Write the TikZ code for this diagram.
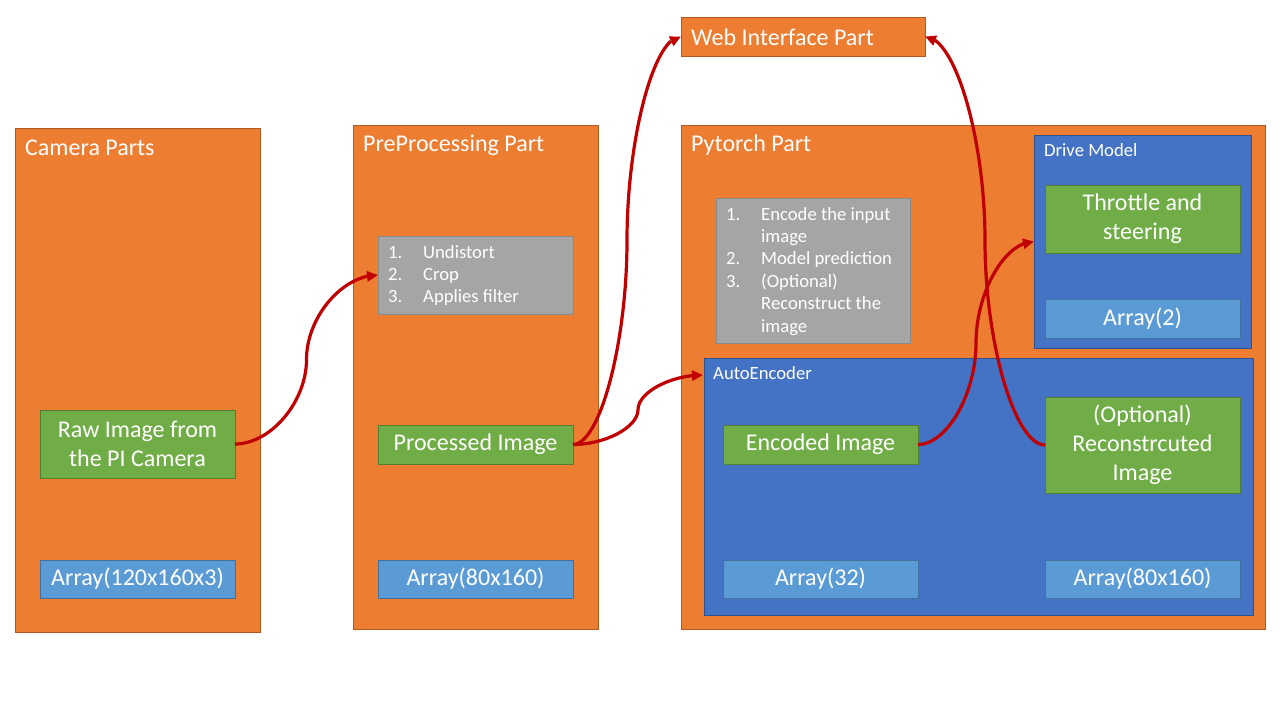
\documentclass[tikz,border=0pt]{standalone}
\usepackage{fontspec}
\setmainfont{Carlito}
\usetikzlibrary{arrows.meta,bending,calc}
\definecolor{org}{HTML}{ED7D31}
\definecolor{orgb}{HTML}{AE5A21}
\definecolor{grn}{HTML}{70AD47}
\definecolor{grnb}{HTML}{507E32}
\definecolor{lblue}{HTML}{5B9BD5}
\definecolor{lblueb}{HTML}{41719C}
\definecolor{dblue}{HTML}{4472C4}
\definecolor{dblueb}{HTML}{2F528F}
\definecolor{gry}{HTML}{A5A5A5}
\definecolor{gryb}{HTML}{8A8A8A}
\definecolor{arr}{HTML}{C00000}
\begin{document}
\begin{tikzpicture}[x=1pt,y=-1pt,
  box/.style={anchor=north west, inner sep=0pt, outer sep=0pt, line width=0.8pt,
    text=white, align=center, font=\fontsize{24}{28.8}\selectfont},
  part/.style={box, fill=org, draw=orgb},
  grnbox/.style={box, fill=grn, draw=grnb},
  arrbox/.style={box, fill=lblue, draw=lblueb},
  modbox/.style={box, fill=dblue, draw=dblueb},
  grybox/.style={box, fill=gry, draw=gryb},
  title/.style={anchor=west, inner sep=0pt, text=white, font=\fontsize{24}{28.8}\selectfont},
  subtitle/.style={anchor=west, inner sep=0pt, text=white, font=\fontsize{18.67}{22.4}\selectfont},
  listtext/.style={anchor=base west, inner sep=0pt, text=white, font=\fontsize{18.67}{22.4}\selectfont},
  conn/.style={draw=arr, line width=3.2pt, -{Triangle[length=11pt,width=10pt]}},
  scurve/.style={to path={let \p1=(\tikztostart), \p2=(\tikztotarget) in
    .. controls ({\x1+(\x2-\x1)/4},{\y1}) and ({(\x1+\x2)/2},{\y1+(\y2-\y1)/4})
    .. ({(\x1+\x2)/2},{(\y1+\y2)/2})
    .. controls ({(\x1+\x2)/2},{\y1+3*(\y2-\y1)/4}) and ({\x1+3*(\x2-\x1)/4},{\y2})
    .. (\tikztotarget)}}
]
\useasboundingbox (0,0) rectangle (1280,720);
\fill[white] (0,0) rectangle (1280,720);

% Camera part
\node[part, minimum width=245, minimum height=504] (cam) at (15,128) {};
\node[title] (camt) at (25,148) {Camera Parts};
\node[grnbox, minimum width=195, minimum height=68] (raw) at (40,410) {Raw Image from\\the PI Camera};
\node[arrbox, minimum width=195, minimum height=38] (arrc) at (40,560) {Array(120x160x3)};

% PreProcessing part
\node[part, minimum width=245, minimum height=504] (pre) at (353,125) {};
\node[title] (pret) at (363,145) {PreProcessing Part};
\node[grybox, minimum width=195, minimum height=78] (grayp) at (378,236) {};
\node[listtext] (listp) at (388,258) {\begin{tabular}[t]{@{}p{35pt}@{}l@{}}
1. & Undistort\\
2. & Crop\\
3. & Applies filter
\end{tabular}};
\node[grnbox, minimum width=195, minimum height=39] (proc) at (378,425) {Processed Image};
\node[arrbox, minimum width=195, minimum height=38] (arrp) at (378,560) {Array(80x160)};

% Web interface
\node[part, minimum width=244, minimum height=39] (web) at (681,17) {};
\node[title] (webt) at (691,37) {Web Interface Part};

% Pytorch part
\node[part, minimum width=584, minimum height=504] (pyt) at (681,125) {};
\node[title] (pytt) at (691,145) {Pytorch Part};
\node[grybox, minimum width=194, minimum height=145] (grayt) at (716,198) {};
\node[listtext] (listt) at (726,220) {\begin{tabular}[t]{@{}p{35pt}@{}l@{}}
1. & Encode the input\\
   & image\\
2. & Model prediction\\
3. & (Optional)\\
   & Reconstruct the\\
   & image
\end{tabular}};

% Drive model
\node[modbox, minimum width=217, minimum height=213] (drive) at (1034,135) {};
\node[subtitle] (drivet) at (1044,150) {Drive Model};
\node[grnbox, minimum width=195, minimum height=68] (thr) at (1045,185) {Throttle and\\steering};
\node[arrbox, minimum width=195, minimum height=39] (arr2) at (1045,299) {Array(2)};

% AutoEncoder
\node[modbox, minimum width=549, minimum height=257] (auto) at (704,358) {};
\node[subtitle] (autot) at (713,373) {AutoEncoder};
\node[grnbox, minimum width=195, minimum height=39] (enc) at (723,425) {Encoded Image};
\node[arrbox, minimum width=195, minimum height=38] (arr32) at (723,560) {Array(32)};
\node[grnbox, minimum width=195, minimum height=96] (rec) at (1045,397) {(Optional)\\Reconstrcuted\\Image};
\node[arrbox, minimum width=195, minimum height=38] (arrr) at (1045,560) {Array(80x160)};

% connector end point
\coordinate (autoin) at (703,375);

% connectors
\draw[conn] (raw.east) to[scurve] (grayp.west);
\draw[conn] (proc.east) to[scurve] (web.west);
\draw[conn] (proc.east) to[scurve] (autoin);
\draw[conn] (enc.east) to[scurve] (drive.west);
\draw[conn] (rec.west) to[scurve] (web.east);
\end{tikzpicture}
\end{document}
